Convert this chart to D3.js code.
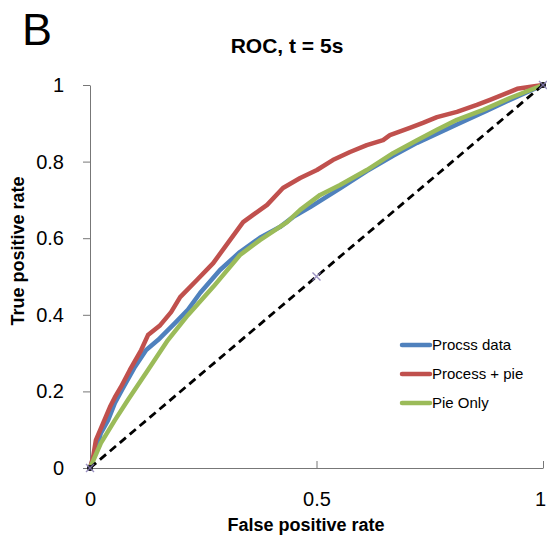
<!DOCTYPE html>
<html>
<head>
<meta charset="utf-8">
<script src="https://cdn.jsdelivr.net/npm/d3@7"></script>
<style>
  body { margin: 0; background: #fff; }
  text { font-family: 'Liberation Sans', Arial, Helvetica, sans-serif; }
</style>
</head>
<body>
<svg id="chart" width="547" height="538"></svg>
<script>
// ROC curves
const procFpr = [0, 0.011, 0.024, 0.040, 0.055, 0.073, 0.099, 0.124, 0.150, 0.188, 0.216, 0.243, 0.287, 0.331, 0.375, 0.419, 0.448, 0.486, 0.552, 0.611, 0.669, 0.722, 0.766, 0.817, 0.876, 0.934, 1]
const procTpr = [0, 0.039, 0.091, 0.125, 0.170, 0.209, 0.264, 0.308, 0.334, 0.379, 0.413, 0.457, 0.517, 0.564, 0.601, 0.629, 0.655, 0.681, 0.730, 0.775, 0.815, 0.849, 0.873, 0.901, 0.933, 0.965, 1]

const procPieFpr = [0, 0.007, 0.013, 0.029, 0.044, 0.055, 0.068, 0.088, 0.113, 0.128, 0.155, 0.179, 0.199, 0.236, 0.272, 0.309, 0.338, 0.360, 0.391, 0.426, 0.464, 0.501, 0.536, 0.574, 0.611, 0.647, 0.662, 0.706, 0.735, 0.766, 0.810, 0.854, 0.883, 0.927, 0.943, 1]
const procPieTpr = [0, 0.029, 0.073, 0.117, 0.159, 0.185, 0.211, 0.256, 0.308, 0.347, 0.373, 0.407, 0.446, 0.491, 0.535, 0.595, 0.642, 0.661, 0.687, 0.731, 0.757, 0.778, 0.804, 0.825, 0.843, 0.856, 0.869, 0.888, 0.901, 0.916, 0.930, 0.948, 0.961, 0.982, 0.990, 1]

const pieFpr = [0, 0.024, 0.055, 0.084, 0.128, 0.172, 0.216, 0.272, 0.331, 0.375, 0.435, 0.464, 0.508, 0.552, 0.611, 0.669, 0.722, 0.766, 0.810, 0.868, 0.927, 1]
const pieTpr = [0, 0.065, 0.125, 0.178, 0.256, 0.334, 0.399, 0.473, 0.556, 0.595, 0.642, 0.674, 0.713, 0.739, 0.778, 0.822, 0.856, 0.883, 0.909, 0.935, 0.966, 1]

const chanceFpr = [0, 0.5, 1]
const chanceTpr = [0, 0.5, 1]

const seriesNames = ['Procss data', 'Process + pie', 'Pie Only']
const seriesColors = ['#4f81bd', '#c0504d', '#9bbb59']

const xTicks = [0, 0.5, 1]
const yTicks = [0, 0.2, 0.4, 0.6, 0.8, 1]

const svg = d3.select('#chart')

const x = d3.scaleLinear().domain([0, 1]).range([90, 543])
const y = d3.scaleLinear().domain([0, 1]).range([468, 85])

const zip = (a, b) => a.map((v, i) => [v, b[i]])

// axes
const yAxis = svg.append('g').attr('transform', 'translate(90,0)')
  .call(d3.axisLeft(y).tickValues(yTicks).tickSize(7).tickSizeOuter(0).tickPadding(19).tickFormat(d3.format('')))
const xAxis = svg.append('g').attr('transform', 'translate(0,468)')
  .call(d3.axisBottom(x).tickValues(xTicks).tickSizeInner(-7).tickSizeOuter(0).tickPadding(24).tickFormat(d3.format('')))

;[xAxis, yAxis].forEach((g) => {
  g.select('.domain').attr('stroke', '#777')
  g.selectAll('.tick line').attr('stroke', '#777')
  g.selectAll('.tick text').attr('font-size', '20px').attr('fill', '#000')
    .attr('font-family', "'Liberation Sans', Arial, sans-serif")
})
xAxis.selectAll('.tick').filter((d) => d === 0).select('line').remove()
xAxis.selectAll('.tick').filter((d) => d === 1).select('text').attr('dx', '-3')

// curves
const line = d3.line().x((d) => x(d[0])).y((d) => y(d[1]))

const curves = [zip(procFpr, procTpr), zip(procPieFpr, procPieTpr), zip(pieFpr, pieTpr)]

svg.append('g').selectAll('path')
  .data(curves)
  .join('path')
  .attr('d', line)
  .attr('fill', 'none')
  .attr('stroke', (d, i) => seriesColors[i])
  .attr('stroke-width', 4.5)
  .attr('stroke-linejoin', 'round')
  .attr('stroke-linecap', 'round')

// chance diagonal
const chance = zip(chanceFpr, chanceTpr)
svg.append('path')
  .attr('d', line(chance))
  .attr('fill', 'none')
  .attr('stroke', '#000')
  .attr('stroke-width', 2.8)
  .attr('stroke-dasharray', '8,5')

const marks = svg.append('g').selectAll('g').data(chance).join('g')
  .attr('transform', (d) => `translate(${x(d[0])},${y(d[1])})`)
marks.filter((d, i) => i !== 1).append('circle').attr('r', 3).attr('fill', '#111')
marks.append('path').attr('d', 'M-4,-4L4,4M-4,4L4,-4')
  .attr('stroke', '#8a7fb8').attr('stroke-width', 1.4).attr('opacity', 0.85)

// legend
const legend = svg.append('g').attr('transform', 'translate(402,345)')
const rows = legend.selectAll('g').data(seriesNames).join('g')
  .attr('transform', (d, i) => `translate(0,${i * 29})`)
rows.append('line').attr('x1', 0).attr('x2', 28)
  .attr('stroke', (d, i) => seriesColors[i]).attr('stroke-width', 4.5).attr('stroke-linecap', 'round')
rows.append('text').attr('x', 30).attr('dy', '0.35em').attr('font-size', '15px').text((d) => d)

// titles
svg.append('text').attr('x', 287).attr('y', 53).attr('text-anchor', 'middle')
  .attr('font-size', '21px').attr('font-weight', 'bold').text('ROC, t = 5s')
svg.append('text').attr('x', 22).attr('y', 45).attr('font-size', '45px').text('B')
svg.append('text').attr('x', 306).attr('y', 531).attr('text-anchor', 'middle')
  .attr('font-size', '18px').attr('font-weight', 'bold').text('False positive rate')
svg.append('text').attr('transform', 'translate(24,251) rotate(-90)').attr('text-anchor', 'middle')
  .attr('font-size', '18px').attr('font-weight', 'bold').text('True positive rate')
</script>
</body>
</html>
